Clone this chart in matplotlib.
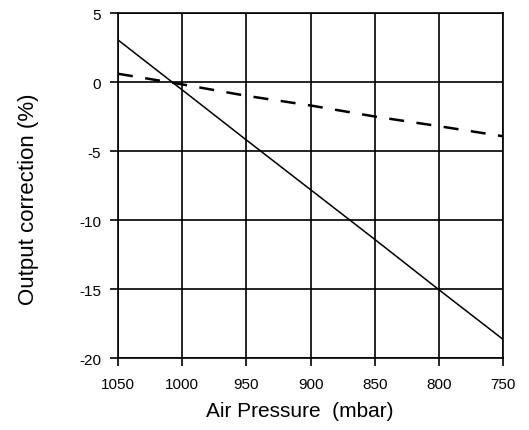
import numpy as np
import matplotlib.pyplot as plt

plt.rcParams['font.family'] = ['Liberation Sans', 'DejaVu Sans']

pressure = [1050, 1000, 950, 900, 850, 800, 750]
solid_corr = [3.05, -0.57, -4.2, -7.8, -11.4, -15.05, -18.65]
dashed_corr = [0.6, -0.17, -1.0, -1.7, -2.5, -3.2, -3.93]

x_ticks = [1050, 1000, 950, 900, 850, 800, 750]
y_ticks = [5, 0, -5, -10, -15, -20]

fig = plt.figure(figsize=(5.29, 4.31), dpi=100)
ax = fig.add_axes([0.223, 0.167, 0.728, 0.8005])

ax.plot(pressure, solid_corr, color='black', lw=1.1)
ax.plot(pressure, dashed_corr, color='black', lw=1.8, dashes=(6, 5))

ax.set_xlim(1050, 750)
ax.set_ylim(-20, 5)
ax.set_xticks(x_ticks)
ax.set_yticks(y_ticks)
ax.set_xticklabels([str(v) for v in x_ticks], fontsize=11)
ax.set_yticklabels([str(v) for v in y_ticks], fontsize=11)
ax.grid(True, color='black', lw=1.2)
ax.tick_params(direction='out', length=6, width=1.2, color='black')
ax.tick_params(axis='x', pad=8)
ax.tick_params(axis='y', pad=6)
for s in ax.spines.values():
    s.set_linewidth(1.2)

ax.set_xlabel('Air Pressure  (mbar)', fontsize=15)
ax.set_ylabel('Output correction (%)', fontsize=16)
ax.xaxis.set_label_coords(0.473, -0.125)
ax.yaxis.set_label_coords(-0.205, 0.464)

fig.savefig('out.png', dpi=100)
